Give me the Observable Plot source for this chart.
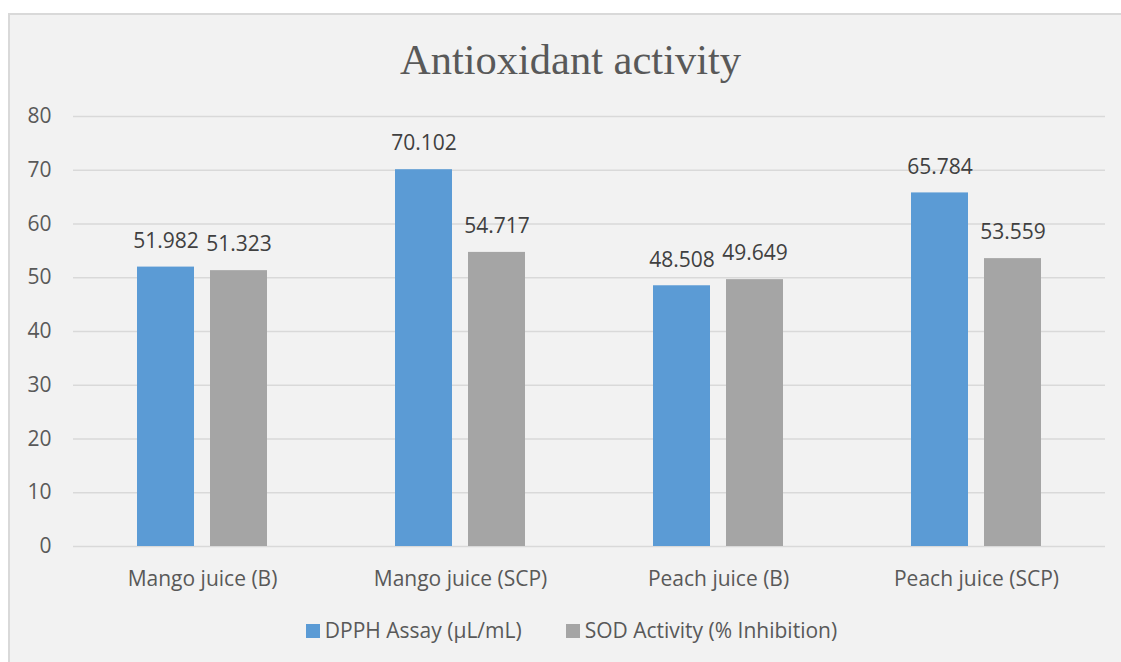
<!DOCTYPE html>
<html>
<head>
<meta charset="utf-8">
<script src="https://cdn.jsdelivr.net/npm/d3@7"></script>
<script src="https://cdn.jsdelivr.net/npm/@observablehq/plot@0.6"></script>
<style>
  html, body { margin: 0; padding: 0; background: #ffffff; }
  #frame {
    position: absolute; left: 8px; top: 13px; width: 1113px; height: 649px;
    background: #f2f2f2; box-sizing: border-box;
    border-left: 2px solid #d9d9d9; border-top: 2px solid #d9d9d9;
    font-family: "Open Sans", sans-serif; color: #595959;
  }
  #title {
    position: absolute; left: 0; top: 20px; width: 100%; text-align: center;
    font-family: "Liberation Serif", "Times New Roman", serif; font-size: 42.5px;
    line-height: 50px; color: #595959; padding-left: 10px; box-sizing: border-box;
  }
  #chart { position: absolute; left: -2px; top: 63px; }
  #legend {
    position: absolute; left: 0; top: 600px; width: 100%; text-align: center;
    font-size: 21px; line-height: 30px; color: #595959; padding-left: 12px; box-sizing: border-box;
  }
  .item { display: inline-block; margin: 0 22px; }
  .sw { display: inline-block; width: 14px; height: 14px; margin-right: 5px; vertical-align: 0px; }
</style>
</head>
<body>
<div id="frame">
  <div id="title">Antioxidant activity</div>
  <div id="chart"></div>
  <div id="legend"></div>
</div>
<script>
const categories = ["Mango juice (B)", "Mango juice (SCP)", "Peach juice (B)", "Peach juice (SCP)"];
const seriesNames = ["DPPH Assay (µL/mL)", "SOD Activity (% Inhibition)"];
const dpphValues = [51.982, 70.102, 48.508, 65.784];
const sodValues = [51.323, 54.717, 49.649, 53.559];
const yTicks = [0, 10, 20, 30, 40, 50, 60, 70, 80];
const colors = ["#5B9BD5", "#A5A5A5"];

const data = categories.flatMap((c, i) => [
  {cat: c, series: seriesNames[0], value: dpphValues[i]},
  {cat: c, series: seriesNames[1], value: sodValues[i]}
]);

const chart = Plot.plot({
  width: 1113,
  height: 535,
  marginTop: 38,
  marginBottom: 67,
  marginLeft: 65,
  marginRight: 16,
  style: {background: "transparent", fontFamily: "Open Sans, sans-serif", fontSize: "21px", color: "#595959", overflow: "visible"},
  fx: {domain: categories, padding: 0, label: null},
  x: {domain: seriesNames, paddingInner: 0.216, paddingOuter: 0.858, axis: null},
  y: {domain: [0, 80], label: null},
  color: {domain: seriesNames, range: colors},
  marks: [
    Plot.gridY(yTicks, {stroke: "#d9d9d9", strokeOpacity: 1, strokeWidth: 1.5}),
    Plot.barY(data, {fx: "cat", x: "series", y: "value", fill: "series"}),
    Plot.text(data, {fx: "cat", x: "series", y: "value", text: d => d.value.toFixed(3), dy: -26, fill: "#404040", fontSize: 21}),
    Plot.axisY(yTicks, {tickSize: 0, tickPadding: 22, fontSize: 21, fill: "#595959", label: null}),
    Plot.axisFx({anchor: "bottom", tickSize: 0, tickPadding: 25, fontSize: 21, fill: "#595959", label: null})
  ]
});
document.getElementById("chart").appendChild(chart);

const legend = document.getElementById("legend");
seriesNames.forEach((s, i) => {
  const item = document.createElement("span");
  item.className = "item";
  const sw = document.createElement("span");
  sw.className = "sw";
  sw.style.background = colors[i];
  item.appendChild(sw);
  item.appendChild(document.createTextNode(s));
  legend.appendChild(item);
});
</script>
</body>
</html>
